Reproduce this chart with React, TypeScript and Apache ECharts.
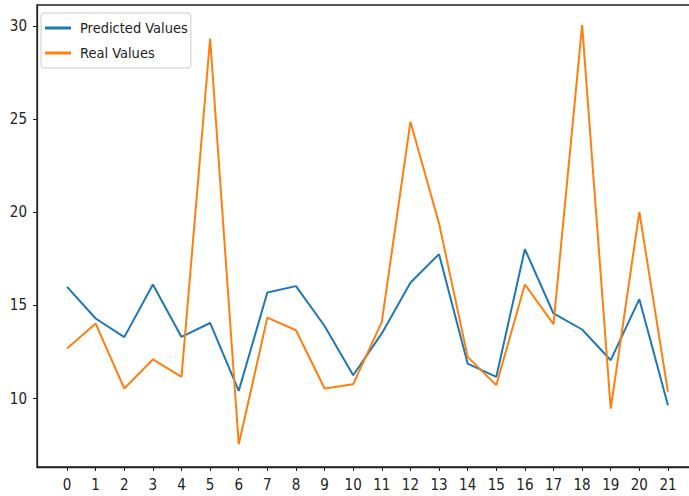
import React, { useEffect, useRef } from "react";
import * as echarts from "echarts";

// Sample index for each prediction
const indices: number[] = Array.from({ length: 22 }, (_, i) => i);

const predictedValues: number[] = [
  16.0, 14.3, 13.3, 16.13, 13.31, 14.06, 10.41, 15.7, 16.04, 13.9, 11.25,
  13.5, 16.22, 17.76, 11.88, 11.16, 18.03, 14.57, 13.71, 12.06, 15.34, 9.64,
];

const realValues: number[] = [
  12.69, 14.03, 10.54, 12.1, 11.16, 29.35, 7.54, 14.35, 13.67, 10.54, 10.77,
  14.12, 24.87, 19.41, 12.24, 10.72, 16.13, 14.0, 30.07, 9.46, 20.03, 10.35,
];

const yTicks: number[] = [10, 15, 20, 25, 30];

const FONT = "'DejaVu Sans Condensed', 'Liberation Sans Narrow', 'DejaVu Sans', sans-serif";

export default function App() {
  const ref = useRef<HTMLDivElement>(null);

  useEffect(() => {
    if (!ref.current) return;
    const chart = echarts.init(ref.current, null, { renderer: "svg" });
    const axisLine = { show: true, onZero: false, lineStyle: { color: "#222", width: 1.3 } };
    chart.setOption({
      animation: false,
      backgroundColor: "#ffffff",
      grid: {
        left: 37,
        top: 5,
        right: 2,
        bottom: 29,
        show: true,
        borderColor: "#222",
        borderWidth: 1.3,
      },
      legend: {
        orient: "vertical",
        left: 41,
        top: 13,
        padding: [6, 3, 6, 4],
        itemGap: 7,
        itemWidth: 26,
        itemHeight: 3,
        icon: "rect",
        backgroundColor: "rgba(255,255,255,0.8)",
        borderColor: "#cccccc",
        borderWidth: 1,
        borderRadius: 3,
        textStyle: {
          fontFamily: FONT,
          fontSize: 14.5,
          lineHeight: 18,
          color: "#222",
          padding: [0, 0, 0, 4],
        },
        data: ["Predicted Values", "Real Values"],
      },
      xAxis: {
        type: "value",
        min: -1.05,
        max: 22.05,
        splitLine: { show: false },
        axisLine,
        axisTick: {
          show: true,
          length: 4,
          customValues: indices,
          lineStyle: { color: "#222", width: 1 },
        },
        axisLabel: {
          customValues: indices,
          margin: 10,
          fontFamily: FONT,
          fontSize: 15,
          color: "#222",
        },
      },
      yAxis: {
        type: "value",
        min: 6.32,
        max: 31.15,
        splitLine: { show: false },
        axisLine,
        axisTick: {
          show: true,
          length: 4,
          customValues: yTicks,
          lineStyle: { color: "#222", width: 1 },
        },
        axisLabel: {
          customValues: yTicks,
          margin: 10,
          fontFamily: FONT,
          fontSize: 15,
          color: "#222",
        },
      },
      series: [
        {
          name: "Predicted Values",
          type: "line",
          data: indices.map((i) => [i, predictedValues[i]]),
          showSymbol: false,
          symbol: "none",
          lineStyle: { color: "#1f77b4", width: 2 },
          itemStyle: { color: "#1f77b4" },
        },
        {
          name: "Real Values",
          type: "line",
          data: indices.map((i) => [i, realValues[i]]),
          showSymbol: false,
          symbol: "none",
          lineStyle: { color: "#ff7f0e", width: 2 },
          itemStyle: { color: "#ff7f0e" },
        },
      ],
    });
    return () => chart.dispose();
  }, []);

  return (
    <div
      style={{
        position: "fixed",
        left: 0,
        top: 0,
        width: 689,
        height: 496,
        overflow: "hidden",
        background: "#fff",
      }}
    >
      <div ref={ref} style={{ width: 700, height: 496 }} />
    </div>
  );
}
